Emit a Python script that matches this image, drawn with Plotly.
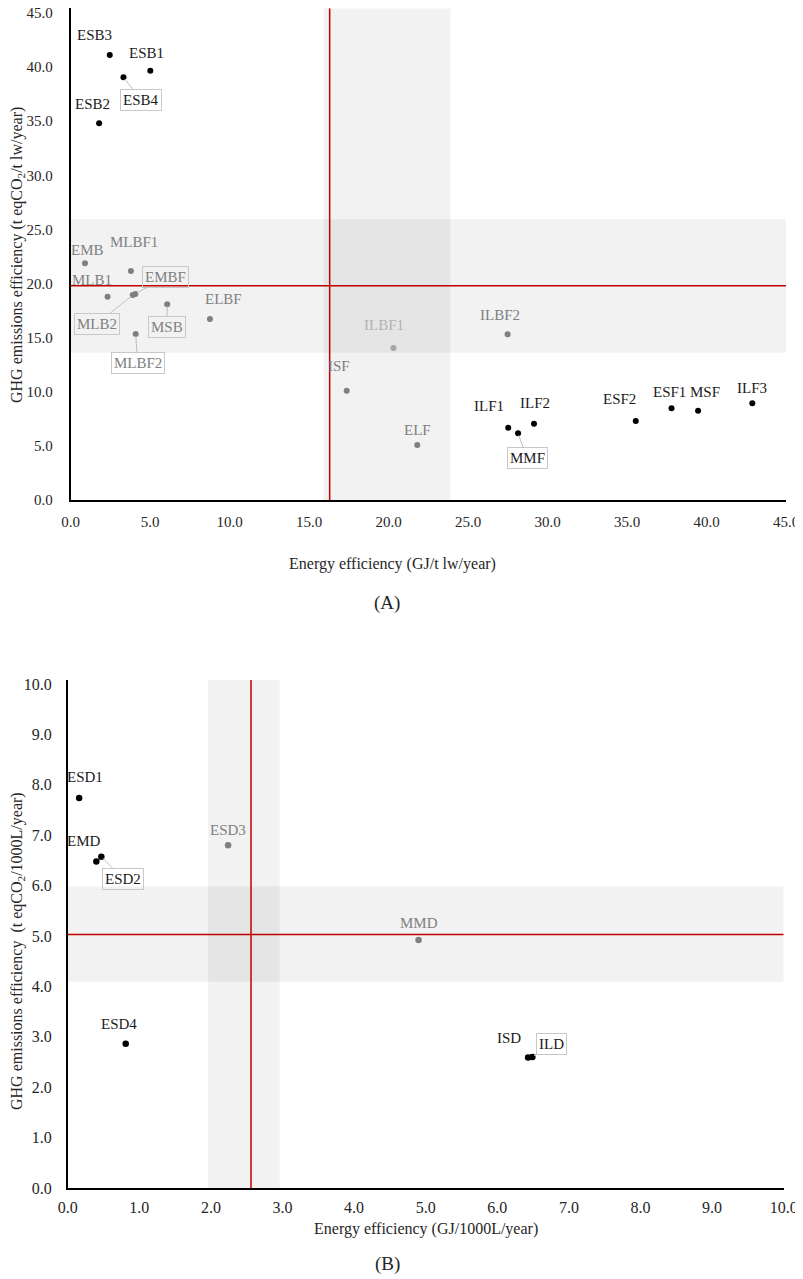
import plotly.graph_objects as go

# ---- chart A: per-ton live weight ----
names_a = ["ESB3", "ESB1", "ESB4", "ESB2", "EMB", "MLBF1", "MLB1", "EMBF", "MLB2",
           "MSB", "ELBF", "MLBF2", "ILBF1", "ILBF2", "ISF", "ELF", "ILF1", "ILF2",
           "MMF", "ESF2", "ESF1", "MSF", "ILF3"]
energy_a = [2.47, 5.02, 3.33, 1.80, 0.91, 3.80, 2.33, 4.08, 3.91,
            6.08, 8.77, 4.10, 20.31, 27.49, 17.37, 21.81, 27.53, 29.15,
            28.15, 35.55, 37.80, 39.47, 42.88]
ghg_a = [41.12, 39.67, 39.06, 34.81, 21.87, 21.16, 18.79, 19.04, 18.94,
         18.08, 16.73, 15.34, 14.05, 15.31, 10.10, 5.08, 6.68, 7.05,
         6.16, 7.30, 8.47, 8.25, 8.94]
mean_a = (16.3, 19.8)            # red reference lines (energy, ghg)
band_energy_a = (15.9, 23.9)
band_ghg_a = (13.6, 25.95)

# ---- chart B: per 1000 L ----
names_b = ["ESD1", "EMD", "ESD2", "ESD3", "ESD4", "MMD", "ISD", "ILD"]
energy_b = [0.16, 0.40, 0.47, 2.24, 0.81, 4.90, 6.43, 6.49]
ghg_b = [7.74, 6.48, 6.57, 6.80, 2.86, 4.92, 2.59, 2.60]
mean_b = (2.56, 5.03)
band_energy_b = (1.96, 2.96)
band_ghg_b = (4.09, 5.98)

xticks_a = [0, 5, 10, 15, 20, 25, 30, 35, 40, 45]
yticks_a = [0, 5, 10, 15, 20, 25, 30, 35, 40, 45]
ticks_b = list(range(0, 11))

# styling
mid_grey = {"EMB", "MLBF1", "MLB1", "EMBF", "MLB2", "MSB", "ELBF", "MLBF2",
            "ILBF2", "ISF", "ELF", "ESD3", "MMD"}
light_grey = {"ILBF1"}
# plain labels: (dx, dy) pixel offset of text centre from the point (dy up)
label_shift = {
    "ESB3": (-15, 20), "ESB1": (-4, 18), "ESB2": (-7, 19), "EMB": (3, 13),
    "MLBF1": (3, 29), "MLB1": (-16, 17), "ELBF": (14, 20), "ILBF1": (-9, 23),
    "ILBF2": (-8, 19), "ISF": (-8, 25), "ELF": (0, 15), "ILF1": (-19, 22),
    "ILF2": (1, 21), "ESF2": (-16, 22), "ESF1": (-2, 16), "MSF": (7, 19),
    "ILF3": (0, 15),
    "ESD1": (6, 21), "EMD": (-12, 20), "ESD3": (0, 15), "ESD4": (-7, 20),
    "MMD": (0, 17), "ISD": (-19, 19),
}
# boxed callouts: (ax, ay) pixel offset of the box from the point (ay down)
callout = {
    "ESB4": (18, 23), "EMBF": (30, -17), "MLB2": (-36, 29), "MSB": (0, 23),
    "MLBF2": (2, 29), "MMF": (9, 25), "ESD2": (22, 22), "ILD": (19, -13),
}

FONT = "Liberation Serif"
RED = "#c00000"
BAND = "rgba(0,0,0,0.05)"
PAGE = 8                     # browser body margin around the plot div
W, H = 803 - PAGE, 1279 - PAGE


def fx(x):
    # window pixel -> paper x
    return (x - PAGE) / W


def fy(y):
    # window pixel -> paper y
    return min(1.0, 1 - (y - PAGE) / H)


def tone(name):
    if name in light_grey:
        return "#a6a6a6", "#b3b3b3"
    if name in mid_grey:
        return "#7f7f7f", "#808080"
    return "#000000", "#1a1a1a"


def px(x, y):
    return dict(x=fx(x), y=fy(y), xref="paper", yref="paper",
                xanchor="center", yanchor="middle")


fig = go.Figure()
annotations = []
shapes = []

for names, xs, ys, xa, ya, size in [
    (names_a, energy_a, ghg_a, "x", "y", 6),
    (names_b, energy_b, ghg_b, "x2", "y2", 6.5),
]:
    fig.add_trace(go.Scatter(
        x=xs, y=ys, mode="markers", xaxis=xa, yaxis=ya, showlegend=False,
        marker=dict(size=size, color=[tone(n)[0] for n in names]),
        hoverinfo="text", text=names,
    ))
    for n, x, y in zip(names, xs, ys):
        txt_col = tone(n)[1]
        if n in callout:
            ax, ay = callout[n]
            annotations.append(dict(
                x=x, y=y, xref=xa, yref=ya, text=n, showarrow=True,
                ax=ax, ay=ay, arrowhead=0, arrowwidth=1, arrowcolor="#bfbfbf",
                standoff=2, bordercolor="#c8c8c8", borderwidth=1, borderpad=2,
                font=dict(family=FONT, size=15, color=txt_col),
            ))
        else:
            dx, dy = label_shift[n]
            annotations.append(dict(
                x=x, y=y, xref=xa, yref=ya, text=n, showarrow=False,
                xshift=dx, yshift=dy, xanchor="center", yanchor="middle",
                font=dict(family=FONT, size=15, color=txt_col),
            ))

A_TOP, B_TOP = 45.45, 10.08
for xa, ya, (mx, my), (bx0, bx1), (by0, by1), xr, yr in [
    ("x", "y", mean_a, band_energy_a, band_ghg_a, (0, 45), (0, A_TOP)),
    ("x2", "y2", mean_b, band_energy_b, band_ghg_b, (0, 10), (0, B_TOP)),
]:
    shapes += [
        dict(type="rect", xref=xa, yref=ya, x0=bx0, x1=bx1, y0=yr[0], y1=yr[1],
             fillcolor=BAND, line=dict(width=0), layer="below"),
        dict(type="rect", xref=xa, yref=ya, x0=xr[0], x1=xr[1], y0=by0, y1=by1,
             fillcolor=BAND, line=dict(width=0), layer="below"),
        dict(type="line", xref=xa, yref=ya, x0=mx, x1=mx, y0=yr[0], y1=yr[1],
             line=dict(color=RED, width=1.5), layer="below"),
        dict(type="line", xref=xa, yref=ya, x0=xr[0], x1=xr[1], y0=my, y1=my,
             line=dict(color=RED, width=1.5), layer="below"),
    ]

# axis titles and panel letters
title_font = dict(family=FONT, size=16, color="#262626")
letter_font = dict(family=FONT, size=19, color="#262626")
annotations += [
    dict(**px(17, 255), text="GHG emissions efficiency (t eqCO<sub>2</sub>/t lw/year)",
         textangle=-90, showarrow=False, font=title_font),
    dict(**px(392, 564), text="Energy efficiency (GJ/t lw/year)",
         showarrow=False, font=title_font),
    dict(**px(387, 603), text="(A)", showarrow=False, font=letter_font),
    dict(**px(17, 951), text="GHG emissions efficiency  (t eqCO<sub>2</sub>/1000L/year)",
         textangle=-90, showarrow=False, font=title_font),
    dict(**px(426, 1229), text="Energy efficiency (GJ/1000L/year)",
         showarrow=False, font=title_font),
    dict(**px(387, 1264), text="(B)", showarrow=False, font=letter_font),
]

axis_common = dict(showgrid=False, zeroline=False, showline=True, linecolor="#000000",
                   linewidth=1.5, ticks="", tickformat=".1f", automargin=False,
                   ticklabeloverflow="allow")

# plot areas in window pixels: A x 70.5-786, y 500 (0) -> 10.822 px/unit;
# B x 67.7-783.7, y 1188 (0) -> 50.4 px/unit
a_top = 500 - A_TOP * 10.822
b_top = 1188 - B_TOP * 50.4
tf_a = dict(family=FONT, size=15, color="#262626")
tf_b = dict(family=FONT, size=16, color="#262626")
fig.update_layout(
    width=W, height=H, margin=dict(l=0, r=0, t=0, b=0, autoexpand=False),
    plot_bgcolor="white", paper_bgcolor="white",
    xaxis=dict(**axis_common, domain=[fx(70.5), fx(786)], range=[0, 45],
               tickvals=xticks_a, anchor="y", ticklabelstandoff=7, tickfont=tf_a),
    yaxis=dict(**axis_common, domain=[fy(500), fy(a_top)], range=[0, A_TOP],
               tickvals=yticks_a, anchor="x", ticklabelstandoff=13, tickfont=tf_a),
    xaxis2=dict(**axis_common, domain=[fx(67.7), fx(783.7)], range=[0, 10],
                tickvals=ticks_b, anchor="y2", ticklabelstandoff=4, tickfont=tf_b),
    yaxis2=dict(**axis_common, domain=[fy(1188), fy(b_top)], range=[0, B_TOP],
                tickvals=ticks_b, anchor="x2", ticklabelstandoff=11, tickfont=tf_b),
    shapes=shapes,
    annotations=annotations,
    font=dict(family=FONT),
)

fig.write_html("out.html")
